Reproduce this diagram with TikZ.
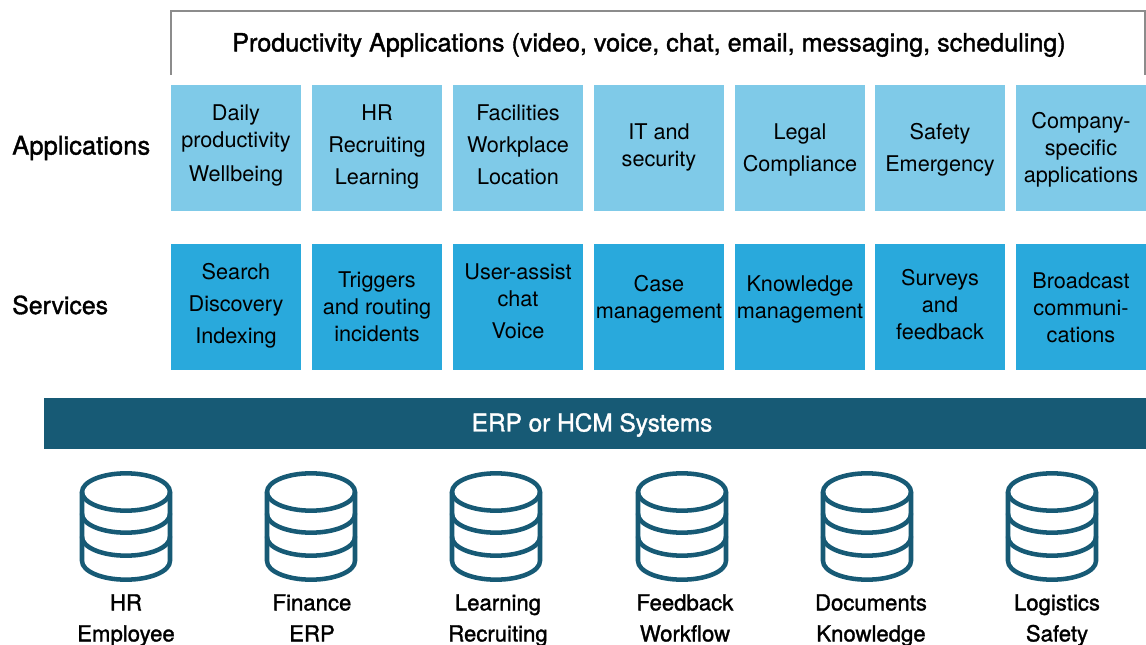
\documentclass[tikz,border=0pt]{standalone}
\usepackage{fontspec}
\setmainfont{TeX Gyre Heros}
\newfontfamily\medfont[FakeBold=1.4]{TeX Gyre Heros}
\definecolor{lightblue}{HTML}{7FCAE8}
\definecolor{midblue}{HTML}{29A9DC}
\definecolor{darkteal}{HTML}{175A75}
\definecolor{framegray}{HTML}{8C8C8C}
\tikzset{
  cellbox/.style={anchor=north west,minimum width=97.5pt,minimum height=94.5pt,inner sep=0pt,outer sep=0pt,align=center,text=black,font=\fontsize{16.25}{20.25}\selectfont},
  appbox/.style={cellbox,fill=lightblue},
  svcbox/.style={cellbox,fill=midblue},
  rowlabel/.style={anchor=west,inner sep=0pt,font=\medfont\fontsize{19.2}{23}\selectfont},
  dblabel/.style={inner sep=0pt,align=center,anchor=north,font=\medfont\fontsize{16.6}{23.25}\selectfont},
  dbline/.style={draw=darkteal,line width=3.4pt,line cap=round,line join=round},
}
% name, x, y, style, px to raise the text, text
\newcommand\cellnode[6]{%
  \pgfmathsetlengthmacro\toppad{14pt+max(0,-(#5))*1.5pt}%
  \pgfmathsetlengthmacro\botpad{6.25pt+max(0,(#5))*1.5pt}%
  \node[#4] (#1) at (#2,#3) {\vrule height \toppad\space depth 0pt width 0pt\relax #6\vrule height 0pt depth \botpad\space width 0pt\relax};%
}
\newcommand\xgap{\\[3.75pt]}
\begin{document}
\begin{tikzpicture}[x=0.75pt,y=-0.75pt]
\useasboundingbox (0,0) rectangle (1146,645);
% title frame
\coordinate (fsw) at (171,75);
\coordinate (fnw) at (171,11);
\coordinate (fne) at (1145,11);
\coordinate (fse) at (1145,75);
\draw[framegray,line width=0.9pt] (fsw) -- (fnw) -- (fne) -- (fse);
\node[inner sep=0pt,font=\medfont\fontsize{18.85}{22}\selectfont] (title) at (649,45) {Productivity Applications (video, voice, chat, email, messaging, scheduling)};
% row labels
\node[rowlabel] (applbl) at (12,148) {Applications};
\node[rowlabel,font=\medfont\fontsize{18.6}{23}\selectfont] (svclbl) at (12,305) {Services};
% applications
\cellnode{a1}{171}{85}{appbox}{2.5}{Daily\\productivity\\[5.25pt]Wellbeing}
\cellnode{a2}{312}{85}{appbox}{1}{HR\xgap Recruiting\xgap Learning}
\cellnode{a3}{453}{85}{appbox}{1}{Facilities\xgap Workplace\xgap Location}
\cellnode{a4}{594}{85}{appbox}{0.5}{IT and\\security}
\cellnode{a5}{735}{85}{appbox}{-2}{Legal\xgap Compliance}
\cellnode{a6}{875}{85}{appbox}{-2}{Safety\xgap Emergency}
\cellnode{a7}{1016}{85}{appbox}{-2}{Company-\\specific\\applications}
% services
\cellnode{s1}{171}{244}{svcbox}{1}{Search\xgap Discovery\xgap Indexing}
\cellnode{s2}{312}{244}{svcbox}{-2}{Triggers\\and routing\\incidents}
\cellnode{s3}{453}{244}{svcbox}{3.5}{User-assist\\chat\xgap Voice}
\cellnode{s4}{594}{244}{svcbox}{7.5}{Case\\management}
\cellnode{s5}{735}{244}{svcbox}{7.5}{Knowledge\\management}
\cellnode{s6}{875}{244}{svcbox}{-0.7}{Surveys\\and\\feedback}
\cellnode{s7}{1016}{244}{svcbox}{-3}{Broadcast\\communi-\\cations}
% bar
\node[anchor=north west,fill=darkteal,minimum width=826.5pt,minimum height=38.25pt,inner sep=0pt] (bar) at (44,398) {};
\node[inner sep=0pt,text=white,font=\medfont\fontsize{18.3}{22}\selectfont] (bartext) at (592,425) {ERP or HCM Systems};
% databases
\foreach \cx/\tx/\nm/\la/\lb in {126/126/hr/HR/Employee,311/312/fin/Finance/ERP,496/498/lrn/Learning/Recruiting,682/685/fb/Feedback/Workflow,867/871/doc/Documents/Knowledge,1052/1057/log/Logistics/Safety}{
  \draw[dbline] (\cx,492) ellipse [x radius=33pt,y radius=14pt];
  \draw[dbline] (\cx-44,492) -- (\cx-44,561) arc[start angle=180,end angle=360,x radius=33pt,y radius=14pt] -- (\cx+44,492);
  \draw[dbline] (\cx-44,514) arc[start angle=180,end angle=360,x radius=33pt,y radius=14pt];
  \draw[dbline] (\cx-44,537) arc[start angle=180,end angle=360,x radius=33pt,y radius=14pt];
  \node[dblabel] (\nm) at (\tx,594) {\la\\\lb};
}
\end{tikzpicture}
\end{document}
